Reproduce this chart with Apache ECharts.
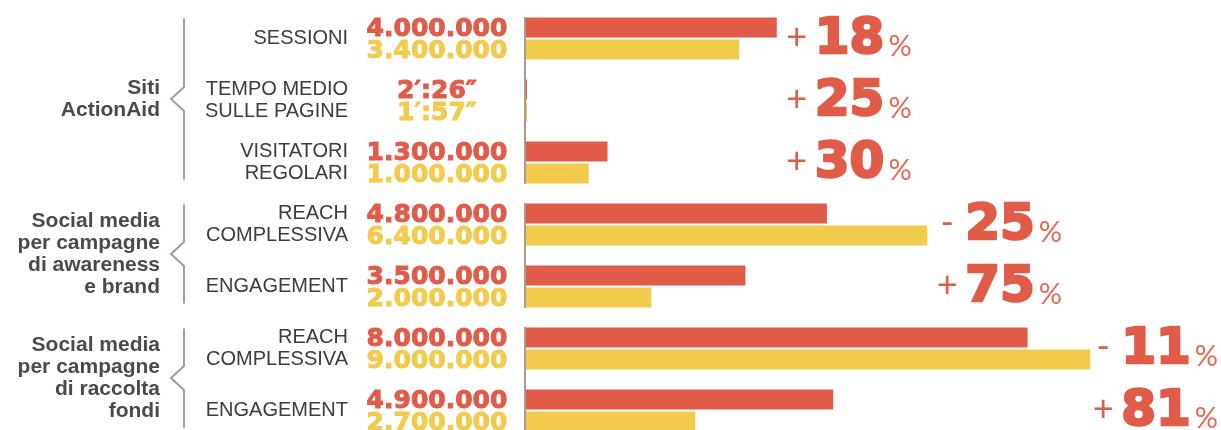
<!DOCTYPE html>
<html>
<head>
<meta charset="utf-8">
<script src="https://cdn.jsdelivr.net/npm/echarts@6/dist/echarts.min.js"></script>
<style>
  html, body { margin: 0; padding: 0; background: #fff; }
  #chart { width: 1221px; height: 430px; }
</style>
</head>
<body>
<div id="chart"></div>
<script>
var categories = ['SESSIONI', 'TEMPO MEDIO\nSULLE PAGINE', 'VISITATORI\nREGOLARI', 'REACH\nCOMPLESSIVA', 'ENGAGEMENT', 'REACH\nCOMPLESSIVA', 'ENGAGEMENT'];
// il tempo medio e' in secondi (2'26" e 1'57")
var redValues = [4000000, 146, 1300000, 4800000, 3500000, 8000000, 4900000];
var yellowValues = [3400000, 117, 1000000, 6400000, 2000000, 9000000, 2700000];
var redLabels = ['4.000.000', '2′:26″', '1.300.000', '4.800.000', '3.500.000', '8.000.000', '4.900.000'];
var yellowLabels = ['3.400.000', '1′:57″', '1.000.000', '6.400.000', '2.000.000', '9.000.000', '2.700.000'];
var changes = [18, 25, 30, -25, 75, -11, 81];
var groupNames = ['Siti\nActionAid', 'Social media\nper campagne\ndi awareness\ne brand', 'Social media\nper campagne\ndi raccolta\nfondi'];
var groupStart = [0, 3, 5];
var groupEnd = [2, 4, 6];

var RED = '#e05c49';
var YELLOW = '#f2ca4c';
var TAN = '#a99c8f';

// la percentuale si allinea alla barra piu' lunga del gruppo
var groupMax = categories.map(function (c, i) {
    var g = 0;
    while (i > groupEnd[g]) g++;
    var m = 0;
    for (var j = groupStart[g]; j <= groupEnd[g]; j++) {
        m = Math.max(m, redValues[j], yellowValues[j]);
    }
    return [m, i];
});

var chart = echarts.init(document.getElementById('chart'));

function valueLabel(labels, color) {
    return {
        show: true,
        position: 'left',
        distance: 16,
        offset: [0, 2],
        formatter: function (p) {
            return '{v|' + labels[p.dataIndex] + '}';
        },
        rich: {
            v: {
                width: 146,
                align: 'center',
                fontSize: 25,
                fontWeight: 'bold',
                fontFamily: 'DejaVu Sans',
                color: color,
                textBorderColor: color,
                textBorderWidth: 1
            }
        }
    };
}

var option = {
    animation: false,
    grid: { left: 526, top: 7.5, width: 627, height: 434, outerBoundsMode: 'none', containLabel: false },
    xAxis: { type: 'value', min: 0, max: 10000000, show: false },
    yAxis: {
        type: 'category',
        data: categories,
        inverse: true,
        axisLine: { show: false },
        axisTick: { show: false },
        axisLabel: {
            margin: 178,
            fontSize: 20,
            lineHeight: 22,
            fontFamily: 'Liberation Sans',
            color: '#3c3c3c'
        }
    },
    series: [
        {
            type: 'custom',
            clip: false,
            silent: true,
            z: 1,
            encode: { x: 0, y: 1 },
            data: groupStart.map(function (s, k) { return [0, s, groupEnd[k], k]; }),
            renderItem: function (params, api) {
                var p0 = api.coord([0, api.value(1)]);
                var p1 = api.coord([0, api.value(2)]);
                var g = api.value(3);
                var x = p0[0];
                var bTop = p0[1] - 20, bBot = p1[1] + 17, mid = (bTop + bBot) / 2;
                return {
                    type: 'group',
                    children: [
                        {
                            type: 'line',
                            shape: { x1: x - 1, y1: p0[1] - 21.5, x2: x - 1, y2: p1[1] + 21.5 },
                            style: { stroke: TAN, lineWidth: 2 }
                        },
                        {
                            type: 'polyline',
                            shape: { points: [[x - 342, bTop], [x - 342, mid - 12], [x - 355, mid], [x - 342, mid + 12], [x - 342, bBot]] },
                            style: { stroke: TAN, lineWidth: 2, fill: null }
                        },
                        {
                            type: 'text',
                            style: {
                                text: groupNames[g],
                                x: x - 366,
                                y: mid,
                                align: 'right',
                                verticalAlign: 'middle',
                                fontSize: 21,
                                fontWeight: 'bold',
                                fontFamily: 'Liberation Sans',
                                lineHeight: 22,
                                fill: '#4a4a4a'
                            }
                        }
                    ]
                };
            }
        },
        {
            type: 'bar',
            data: redValues,
            barWidth: 20,
            barGap: '10%',
            barMinHeight: 1,
            itemStyle: { color: RED },
            label: valueLabel(redLabels, RED),
            z: 2
        },
        {
            type: 'bar',
            data: yellowValues,
            barWidth: 20,
            barGap: '10%',
            barMinHeight: 1,
            itemStyle: { color: YELLOW },
            label: valueLabel(yellowLabels, YELLOW),
            z: 2
        },
        {
            type: 'scatter',
            data: groupMax,
            symbolSize: 0,
            silent: true,
            itemStyle: { opacity: 1 },
            label: {
                show: true,
                opacity: 1,
                position: 'right',
                distance: 8,
                formatter: function (p) {
                    var c = changes[p.dataIndex];
                    return '{s|' + (c < 0 ? '-' : '+') + '}{n|' + Math.abs(c) + '}{p|%}';
                },
                rich: {
                    s: { width: 24, align: 'right', fontSize: 36, fontFamily: 'Lato', color: RED, padding: [0, 0, 3, 0] },
                    n: {
                        fontSize: 50, fontWeight: 'bold', fontFamily: 'DejaVu Sans', color: RED,
                        textBorderColor: RED, textBorderWidth: 2.5, padding: [4, 4, 0, 6]
                    },
                    p: { fontSize: 29, fontFamily: 'Lato', color: '#e46a57', padding: [17, 0, 0, 0] }
                }
            },
            labelLayout: function (p) {
                var over = p.labelRect.x + p.labelRect.width - (chart.getWidth() - 3);
                return over > 0 ? { dx: -over } : {};
            }
        }
    ]
};

chart.setOption(option);
</script>
</body>
</html>
